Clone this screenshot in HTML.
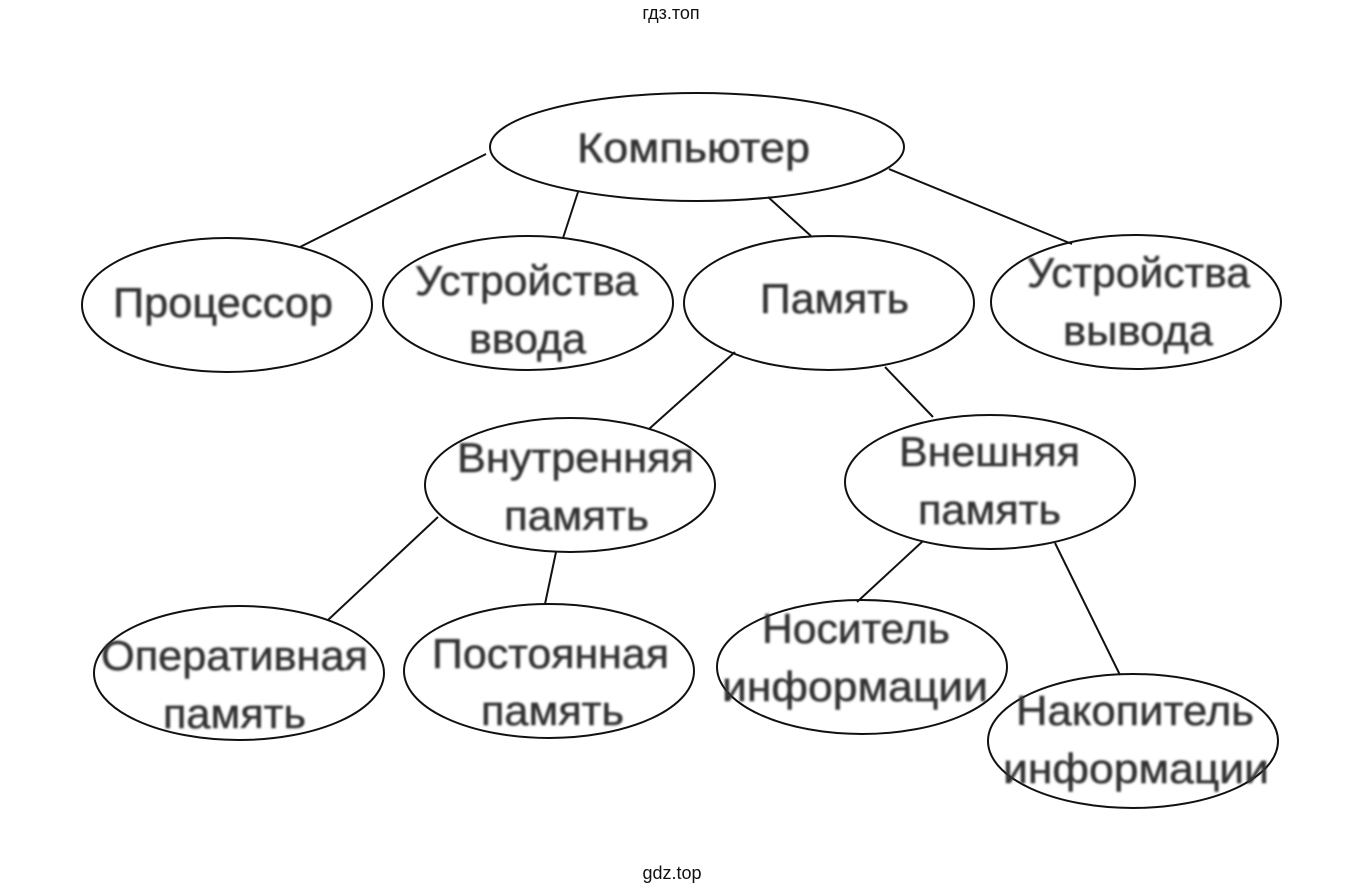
<!DOCTYPE html>
<html lang="ru">
<head>
<meta charset="utf-8">
<title>Компьютер</title>
<style>
html,body{margin:0;padding:0;background:#fff;width:1345px;height:893px;overflow:hidden}
svg{display:block}
.g{filter:url(#b)}
.g text{font-family:"Liberation Sans",sans-serif;font-size:42px;fill:#333;stroke:#333;stroke-width:.5px;text-anchor:start}
.w{font-family:"Liberation Sans",sans-serif;font-size:18px;fill:#111;text-anchor:middle}
ellipse{fill:none;stroke:#111;stroke-width:2}
line{stroke:#111;stroke-width:2}
</style>
</head>
<body>
<svg width="1345" height="893" viewBox="0 0 1345 893" xmlns="http://www.w3.org/2000/svg">
<defs><filter id="b" x="-5%" y="-5%" width="110%" height="110%"><feGaussianBlur stdDeviation="1.1"/></filter></defs>
<rect width="1345" height="893" fill="#fff"/>
<text class="w" x="671" y="19">гдз.топ</text>
<text class="w" x="672" y="879">gdz.top</text>

<line x1="486" y1="154" x2="300" y2="247"/>
<line x1="578" y1="192" x2="563" y2="238"/>
<line x1="768" y1="197" x2="811" y2="236"/>
<line x1="889" y1="169" x2="1072" y2="244"/>
<line x1="735" y1="352" x2="649" y2="429"/>
<line x1="885" y1="367" x2="933" y2="417"/>
<line x1="438" y1="517" x2="328" y2="620"/>
<line x1="556" y1="552" x2="545" y2="604"/>
<line x1="923" y1="541" x2="857" y2="602"/>
<line x1="1055" y1="543" x2="1120" y2="675"/>

<ellipse cx="697" cy="147" rx="207" ry="54"/>
<ellipse cx="227" cy="305" rx="145" ry="67"/>
<ellipse cx="528" cy="303" rx="145" ry="67"/>
<ellipse cx="829" cy="303" rx="145" ry="67"/>
<ellipse cx="1136" cy="302" rx="145" ry="67"/>
<ellipse cx="570" cy="485" rx="145" ry="67"/>
<ellipse cx="990" cy="482" rx="145" ry="67"/>
<ellipse cx="239" cy="673" rx="145" ry="67"/>
<ellipse cx="549" cy="671" rx="145" ry="67"/>
<ellipse cx="862" cy="667" rx="145" ry="67"/>
<ellipse cx="1133" cy="741" rx="145" ry="67"/>

<g class="g">
<text x="577" y="162" textLength="233" lengthAdjust="spacingAndGlyphs">Компьютер</text>
<text x="113" y="317" textLength="220" lengthAdjust="spacingAndGlyphs">Процессор</text>
<text x="415" y="295" textLength="223" lengthAdjust="spacingAndGlyphs">Устройства</text>
<text x="469" y="353" textLength="117" lengthAdjust="spacingAndGlyphs">ввода</text>
<text x="760" y="313" textLength="149" lengthAdjust="spacingAndGlyphs">Память</text>
<text x="1027" y="287" textLength="223" lengthAdjust="spacingAndGlyphs">Устройства</text>
<text x="1063" y="345" textLength="150" lengthAdjust="spacingAndGlyphs">вывода</text>
<text x="457" y="472" textLength="237" lengthAdjust="spacingAndGlyphs">Внутренняя</text>
<text x="504" y="530" textLength="145" lengthAdjust="spacingAndGlyphs">память</text>
<text x="899" y="466" textLength="181" lengthAdjust="spacingAndGlyphs">Внешняя</text>
<text x="918" y="524" textLength="143" lengthAdjust="spacingAndGlyphs">память</text>
<text x="101" y="670" textLength="267" lengthAdjust="spacingAndGlyphs">Оперативная</text>
<text x="163" y="728" textLength="143" lengthAdjust="spacingAndGlyphs">память</text>
<text x="432" y="668" textLength="237" lengthAdjust="spacingAndGlyphs">Постоянная</text>
<text x="481" y="725" textLength="143" lengthAdjust="spacingAndGlyphs">память</text>
<text x="762" y="643" textLength="188" lengthAdjust="spacingAndGlyphs">Носитель</text>
<text x="722" y="701" textLength="266" lengthAdjust="spacingAndGlyphs">информации</text>
<text x="1016" y="725" textLength="238" lengthAdjust="spacingAndGlyphs">Накопитель</text>
<text x="1003" y="783" textLength="266" lengthAdjust="spacingAndGlyphs">информации</text>
</g>
</svg>
</body>
</html>
